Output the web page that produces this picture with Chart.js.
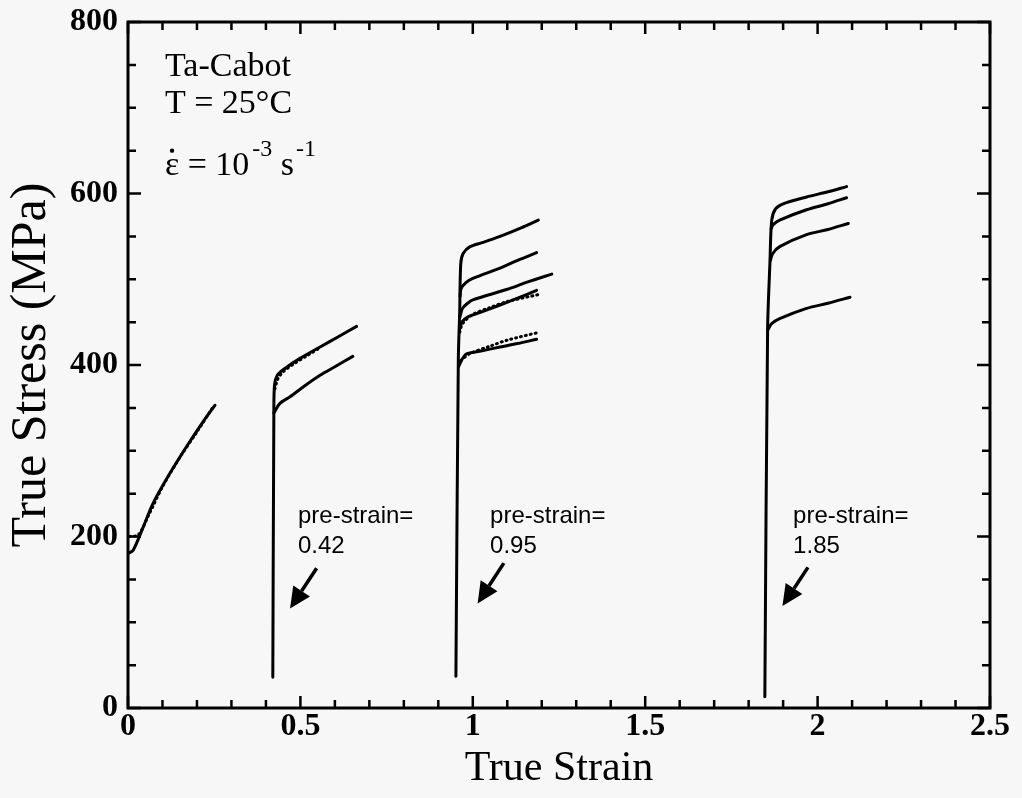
<!DOCTYPE html>
<html>
<head>
<meta charset="utf-8">
<script src="https://cdn.jsdelivr.net/npm/chart.js@4.4.0/dist/chart.umd.min.js"></script>
<style>
html, body { margin: 0; padding: 0; background: #f7f7f7; }
</style>
</head>
<body>
<canvas id="canvas" width="1022" height="798"></canvas>
<script>
// axis ticks
var xTicks = [0, 0.5, 1, 1.5, 2, 2.5];
var yTicks = [0, 200, 400, 600, 800];

// pre-strain 0 (virgin material)
var c0X = [0, 0.015, 0.044, 0.073, 0.122, 0.17, 0.218, 0.252];
var c0Y = [180, 184, 211, 239, 274, 305, 334, 353];
var c0dX = [0.004, 0.03, 0.06, 0.1, 0.15, 0.2, 0.245];
var c0dY = [200, 202, 225, 258, 292, 322, 350];

// pre-strain 0.42
var c42aX = [0.42, 0.423, 0.425, 0.433, 0.455, 0.5, 0.557, 0.61, 0.663];
var c42aY = [36, 344, 377, 388, 396, 408, 421, 433, 445];
var c42bX = [0.423, 0.44, 0.47, 0.51, 0.557, 0.6, 0.652];
var c42bY = [344, 355, 363, 375, 388, 398, 410];
var c42dX = [0.426, 0.435, 0.45, 0.48, 0.52, 0.56];
var c42dY = [372, 384, 392, 401, 411, 421];

// pre-strain 0.95
var c95aX = [0.951, 0.958, 0.962, 0.965, 0.972, 0.992, 1.03, 1.079, 1.14, 1.19];
var c95aY = [37, 406, 462, 518, 530, 538, 543, 550, 560, 569];
var c95bX = [0.963, 0.966, 0.98, 1.0, 1.079, 1.13, 1.185];
var c95bY = [480, 489, 496, 501, 513, 522, 531];
var c95cX = [0.962, 0.97, 0.985, 1.0, 1.098, 1.16, 1.229];
var c95cY = [455, 466, 472, 476, 488, 497, 506];
var c95dX = [0.961, 0.968, 0.985, 1.02, 1.079, 1.13, 1.185];
var c95dY = [440, 450, 456, 461, 470, 478, 487];
var c95eX = [0.962, 0.97, 1.0, 1.05, 1.1, 1.19];
var c95eY = [438, 448, 459, 467, 474, 482];
var c95fX = [0.959, 0.968, 0.982, 1.02, 1.079, 1.13, 1.185];
var c95fY = [398, 406, 413, 416, 421, 425, 430];
var c95gX = [0.965, 0.99, 1.05, 1.1, 1.19];
var c95gY = [405, 413, 422, 429, 438];

// pre-strain 1.85
var c185aX = [1.847, 1.855, 1.862, 1.867, 1.878, 1.9, 1.968, 2.03, 2.084];
var c185aY = [13, 441, 522, 569, 582, 588, 596, 602, 608];
var c185bX = [1.865, 1.872, 1.89, 1.968, 2.03, 2.084];
var c185bY = [559, 564, 569, 581, 588, 595];
var c185cX = [1.863, 1.87, 1.89, 1.968, 2.03, 2.089];
var c185cY = [522, 530, 538, 552, 558, 565];
var c185dX = [1.856, 1.866, 1.89, 1.968, 2.03, 2.094];
var c185dY = [441, 448, 454, 466, 472, 479];

// annotations (strain, stress)
var notes = [
    { x: 0.493, y: 216, line1: 'pre-strain=', line2: '0.42', tail: [0.547, 163], tip: [0.470, 116] },
    { x: 1.05, y: 216, line1: 'pre-strain=', line2: '0.95', tail: [1.090, 169], tip: [1.014, 122] },
    { x: 1.929, y: 216, line1: 'pre-strain=', line2: '1.85', tail: [1.972, 164], tip: [1.898, 119] }
];

function pts(xs, ys) {
    return xs.map(function(x, i) { return { x: x, y: ys[i] }; });
}

function solid(xs, ys) {
    return { data: pts(xs, ys), borderColor: '#000', borderWidth: 3, showLine: true,
             pointRadius: 0, tension: 0.3, borderCapStyle: 'round', borderJoinStyle: 'round', fill: false };
}
function dotted(xs, ys) {
    return { data: pts(xs, ys), borderColor: '#000', borderWidth: 3, showLine: true,
             pointRadius: 0, tension: 0.3, borderDash: [1, 4], borderCapStyle: 'round', fill: false };
}

var serif = '"Liberation Serif", "Times New Roman", serif';

var framePlugin = {
    id: 'frame',
    afterDraw: function(chart) {
        var ctx = chart.ctx;
        var a = chart.chartArea;
        var xs = chart.scales.x, ys = chart.scales.y;
        ctx.save();
        ctx.strokeStyle = '#000';
        ctx.lineWidth = 3;
        ctx.strokeRect(a.left, a.top, a.right - a.left, a.bottom - a.top);
        ctx.lineWidth = 2.5;
        ctx.beginPath();
        for (var i = 0; i <= 25; i++) {
            var px = xs.getPixelForValue(i / 10);
            var len = (i % 5 === 0) ? 12 : 8;
            ctx.moveTo(px, a.bottom); ctx.lineTo(px, a.bottom - len);
            ctx.moveTo(px, a.top); ctx.lineTo(px, a.top + len);
        }
        for (var j = 0; j <= 16; j++) {
            var py = ys.getPixelForValue(j * 50);
            var l2 = (j % 4 === 0) ? 13 : 8;
            ctx.moveTo(a.left, py); ctx.lineTo(a.left + l2, py);
            ctx.moveTo(a.right, py); ctx.lineTo(a.right - l2, py);
        }
        ctx.stroke();

        // header text
        ctx.fillStyle = '#000';
        ctx.textBaseline = 'alphabetic';
        ctx.textAlign = 'left';
        ctx.font = '34px ' + serif;
        var tx = xs.getPixelForValue(0.107);
        ctx.fillText('Ta-Cabot', tx, ys.getPixelForValue(737));
        ctx.fillText('T = 25\u00B0C', tx, ys.getPixelForValue(694));
        var by = ys.getPixelForValue(622);
        ctx.fillText('\u03B5', tx, by);
        var ew = ctx.measureText('\u03B5').width;
        ctx.beginPath();
        ctx.arc(tx + ew / 2, by - 24, 2.2, 0, Math.PI * 2);
        ctx.fill();
        var cx = tx + ew;
        ctx.fillText(' = 10', cx, by);
        cx += ctx.measureText(' = 10').width;
        ctx.font = '24px ' + serif;
        ctx.fillText('-3', cx + 3, by - 19);
        cx += ctx.measureText('-3').width + 3;
        ctx.font = '34px ' + serif;
        ctx.fillText(' s', cx, by);
        cx += ctx.measureText(' s').width;
        ctx.font = '24px ' + serif;
        ctx.fillText('-1', cx + 2, by - 19);

        // pre-strain notes and arrows
        ctx.font = '24px "Liberation Sans", Arial, sans-serif';
        notes.forEach(function(n) {
            var nx = xs.getPixelForValue(n.x);
            var ny = ys.getPixelForValue(n.y);
            ctx.fillText(n.line1, nx, ny);
            ctx.fillText(n.line2, nx, ny + 30);
            var x1 = xs.getPixelForValue(n.tail[0]), y1 = ys.getPixelForValue(n.tail[1]);
            var x2 = xs.getPixelForValue(n.tip[0]), y2 = ys.getPixelForValue(n.tip[1]);
            var ang = Math.atan2(y2 - y1, x2 - x1);
            var hl = 21, hw = 10;
            var bx = x2 - hl * Math.cos(ang), byy = y2 - hl * Math.sin(ang);
            ctx.lineWidth = 3.5;
            ctx.beginPath();
            ctx.moveTo(x1, y1); ctx.lineTo(bx, byy);
            ctx.stroke();
            ctx.beginPath();
            ctx.moveTo(x2, y2);
            ctx.lineTo(bx + hw * Math.sin(ang), byy - hw * Math.cos(ang));
            ctx.lineTo(bx - hw * Math.sin(ang), byy + hw * Math.cos(ang));
            ctx.closePath();
            ctx.fill();
        });
        ctx.restore();
    }
};

var config = {
    type: 'scatter',
    data: {
        datasets: [
            solid(c0X, c0Y), dotted(c0dX, c0dY),
            solid(c42aX, c42aY), solid(c42bX, c42bY), dotted(c42dX, c42dY),
            solid(c95aX, c95aY), solid(c95bX, c95bY), solid(c95cX, c95cY),
            solid(c95dX, c95dY), dotted(c95eX, c95eY),
            solid(c95fX, c95fY), dotted(c95gX, c95gY),
            solid(c185aX, c185aY), solid(c185bX, c185bY), solid(c185cX, c185cY), solid(c185dX, c185dY)
        ]
    },
    options: {
        responsive: false,
        animation: false,
        layout: { padding: { top: 22, right: 32, left: 0, bottom: 0 } },
        plugins: {
            legend: { display: false },
            tooltip: { enabled: false }
        },
        scales: {
            x: {
                type: 'linear',
                min: 0, max: 2.5,
                grid: { display: false, drawTicks: false },
                border: { display: false },
                afterBuildTicks: function(scale) {
                    scale.ticks = xTicks.map(function(v) { return { value: v }; });
                },
                afterFit: function(scale) {
                    scale.height = 90;
                    scale.paddingLeft = 0;
                    scale.paddingRight = 0;
                },
                ticks: {
                    padding: 0,
                    color: '#000',
                    font: { family: serif, size: 32, weight: 'bold' },
                    callback: function(v) { return String(v); }
                },
                title: {
                    display: true,
                    text: 'True Strain',
                    color: '#000',
                    font: { family: serif, size: 42 },
                    padding: { top: 0, bottom: 4 }
                }
            },
            y: {
                type: 'linear',
                min: 0, max: 800,
                grid: { display: false, drawTicks: false },
                border: { display: false },
                afterBuildTicks: function(scale) {
                    scale.ticks = yTicks.map(function(v) { return { value: v }; });
                },
                afterFit: function(scale) {
                    scale.width = 128;
                    scale.paddingTop = 0;
                    scale.paddingBottom = 0;
                },
                ticks: {
                    padding: 10,
                    color: '#000',
                    font: { family: serif, size: 32, weight: 'bold' }
                },
                title: {
                    display: true,
                    text: 'True Stress (MPa)',
                    color: '#000',
                    font: { family: serif, size: 50 },
                    padding: { top: 2, bottom: 0 }
                }
            }
        }
    },
    plugins: [framePlugin]
};

window.onload = function() {
    var ctx = document.getElementById('canvas').getContext('2d');
    window.myChart = new Chart(ctx, config);
};
</script>
</body>
</html>
